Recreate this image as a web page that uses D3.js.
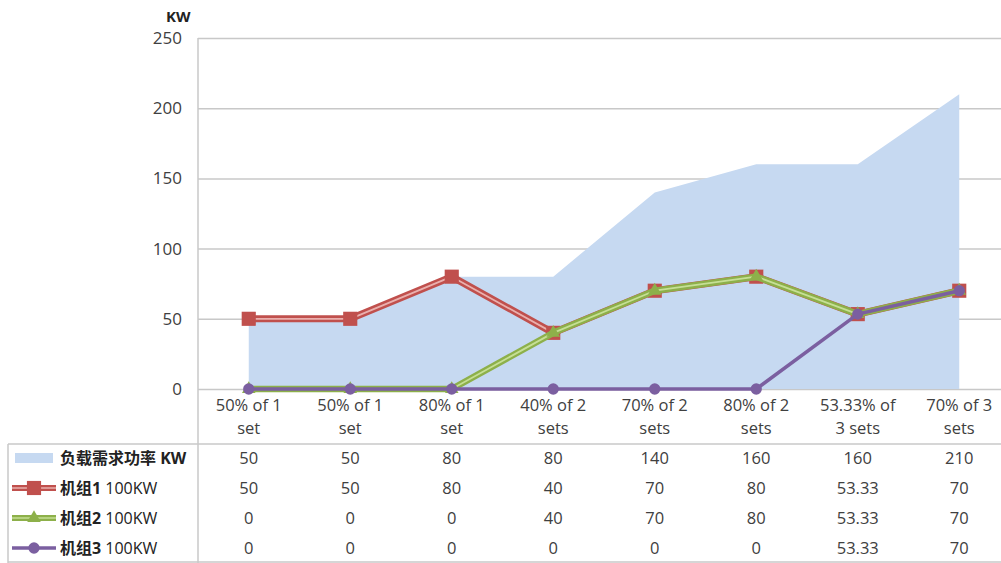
<!DOCTYPE html>
<html>
<head>
<meta charset="utf-8">
<script src="https://cdn.jsdelivr.net/npm/d3@7"></script>
<style>
  body { margin: 0; background: #fff; }
  svg { display: block; font-family: "Open Sans", "Noto Sans CJK SC", sans-serif; }
</style>
</head>
<body>
<div id="chart"></div>
<script>
// categories along the x axis (two lines each)
const categories = [
  ["50% of 1", "set"], ["50% of 1", "set"], ["80% of 1", "set"], ["40% of 2", "sets"],
  ["70% of 2", "sets"], ["80% of 2", "sets"], ["53.33% of", "3 sets"], ["70% of 3", "sets"]
];
const seriesNames = [["负载需求功率", " KW"], ["机组1", " 100KW"], ["机组2", " 100KW"], ["机组3", " 100KW"]];
const loadDemand = [50, 50, 80, 80, 140, 160, 160, 210];
const unit1 = [50, 50, 80, 40, 70, 80, 53.33, 70];
const unit2 = [0, 0, 0, 40, 70, 80, 53.33, 70];
const unit3 = [0, 0, 0, 0, 0, 0, 53.33, 70];
const yTicks = [0, 50, 100, 150, 200, 250];

const W = 1001, H = 563;
const plot = {left: 198, right: 1010, top: 38, bottom: 389};
const textColor = "#404040";
const gridColor = "#c8c8c8";
const fs = 16.5;

const svg = d3.select("#chart").append("svg")
  .attr("width", W).attr("height", H);

const x = d3.scaleBand()
  .domain(d3.range(categories.length))
  .range([plot.left, plot.right]);
const cx = i => x(i) + x.bandwidth() / 2;

const y = d3.scaleLinear()
  .domain([0, 250])
  .range([plot.bottom, plot.top]);

// gridlines + y tick labels
const yAxis = d3.axisLeft(y).tickValues(yTicks).tickSize(-(plot.right - plot.left)).tickPadding(16);
const gy = svg.append("g").attr("transform", `translate(${plot.left},0)`).call(yAxis);
gy.select(".domain").remove();
gy.selectAll(".tick line").attr("stroke", gridColor).attr("stroke-width", 1.5);
gy.selectAll(".tick text").attr("fill", textColor).attr("font-size", 17)
  .attr("font-family", "Open Sans");

svg.append("text")
  .attr("x", 166).attr("y", 22)
  .attr("fill", "#222").attr("font-size", 15).attr("font-weight", "bold")
  .text("KW");

// area for load demand
const area = d3.area()
  .x((d, i) => cx(i))
  .y0(y(0))
  .y1(d => y(d));
svg.append("path")
  .datum(loadDemand)
  .attr("d", area)
  .attr("fill", "#c6d9f1");

// vertical axis line, running down through the table
svg.append("line")
  .attr("x1", plot.left).attr("x2", plot.left)
  .attr("y1", plot.top).attr("y2", H)
  .attr("stroke", gridColor).attr("stroke-width", 1.5);

// table lines
const tableTop = 444;
svg.append("line")
  .attr("x1", 8).attr("x2", W).attr("y1", tableTop).attr("y2", tableTop)
  .attr("stroke", gridColor).attr("stroke-width", 1.5);
svg.append("line")
  .attr("x1", 8).attr("x2", W).attr("y1", H - 1).attr("y2", H - 1)
  .attr("stroke", gridColor).attr("stroke-width", 1.5);
svg.append("line")
  .attr("x1", 8).attr("x2", 8).attr("y1", tableTop).attr("y2", H)
  .attr("stroke", gridColor).attr("stroke-width", 1.5);

// line series
const line = d3.line().x((d, i) => cx(i)).y(d => y(d));
const lineSeries = [
  {values: unit1, dark: "#c0504d", light: "#eab0ae", width: 7, marker: "square"},
  {values: unit2, dark: "#8db04a", light: "#c6df95", width: 6.5, marker: "triangle"},
  {values: unit3, dark: "#7b5fa0", light: "#7b5fa0", width: 3.5, marker: "circle"}
];

const symbolFor = {
  square: d3.symbol().type(d3.symbolSquare).size(200),
  triangle: d3.symbol().type(d3.symbolTriangle).size(80),
  circle: d3.symbol().type(d3.symbolCircle).size(100)
};

lineSeries.forEach(s => {
  const g = svg.append("g");
  g.append("path").datum(s.values).attr("d", line)
    .attr("fill", "none").attr("stroke", s.dark).attr("stroke-width", s.width)
    .attr("stroke-linejoin", "round");
  if (s.width > 4) {
    g.append("path").datum(s.values).attr("d", line)
      .attr("fill", "none").attr("stroke", s.light).attr("stroke-width", 1.8)
      .attr("stroke-linejoin", "round");
  }
  g.selectAll("path.mk").data(s.values).enter().append("path")
    .attr("class", "mk")
    .attr("d", symbolFor[s.marker])
    .attr("transform", (d, i) => `translate(${cx(i)},${y(d)})`)
    .attr("fill", s.dark);
});

// category labels
categories.forEach((c, i) => {
  const t = svg.append("text")
    .attr("x", cx(i)).attr("y", 411)
    .attr("text-anchor", "middle").attr("fill", textColor).attr("font-size", fs);
  t.append("tspan").attr("x", cx(i)).attr("dy", 0).text(c[0]);
  t.append("tspan").attr("x", cx(i)).attr("dy", 23).text(c[1]);
});

// data table rows
const rows = [loadDemand, unit1, unit2, unit3];
const rowY = [464, 494, 524, 554];
rows.forEach((vals, r) => {
  svg.selectAll(null).data(vals).enter().append("text")
    .attr("x", (d, i) => cx(i)).attr("y", rowY[r])
    .attr("text-anchor", "middle").attr("fill", textColor).attr("font-size", fs)
    .text(d => d);

  // legend key
  const ky = rowY[r] - 6;
  if (r === 0) {
    svg.append("rect").attr("x", 15).attr("y", ky - 5).attr("width", 38).attr("height", 10)
      .attr("fill", "#c6d9f1");
  } else {
    const s = lineSeries[r - 1];
    svg.append("line").attr("x1", 12).attr("x2", 56).attr("y1", ky).attr("y2", ky)
      .attr("stroke", s.dark).attr("stroke-width", s.width > 4 ? 6 : 3.5);
    if (s.width > 4) {
      svg.append("line").attr("x1", 12).attr("x2", 56).attr("y1", ky).attr("y2", ky)
        .attr("stroke", s.light).attr("stroke-width", 1.5);
    }
    svg.append("path").attr("d", symbolFor[s.marker])
      .attr("transform", `translate(34,${ky})`).attr("fill", s.dark);
  }
  const lt = svg.append("text")
    .attr("x", 60).attr("y", rowY[r])
    .attr("fill", "#222").attr("font-size", 16);
  lt.append("tspan").attr("font-weight", "bold").text(seriesNames[r][0]);
  lt.append("tspan").attr("font-weight", r === 0 ? "bold" : "normal").text(seriesNames[r][1]);
});
</script>
</body>
</html>
